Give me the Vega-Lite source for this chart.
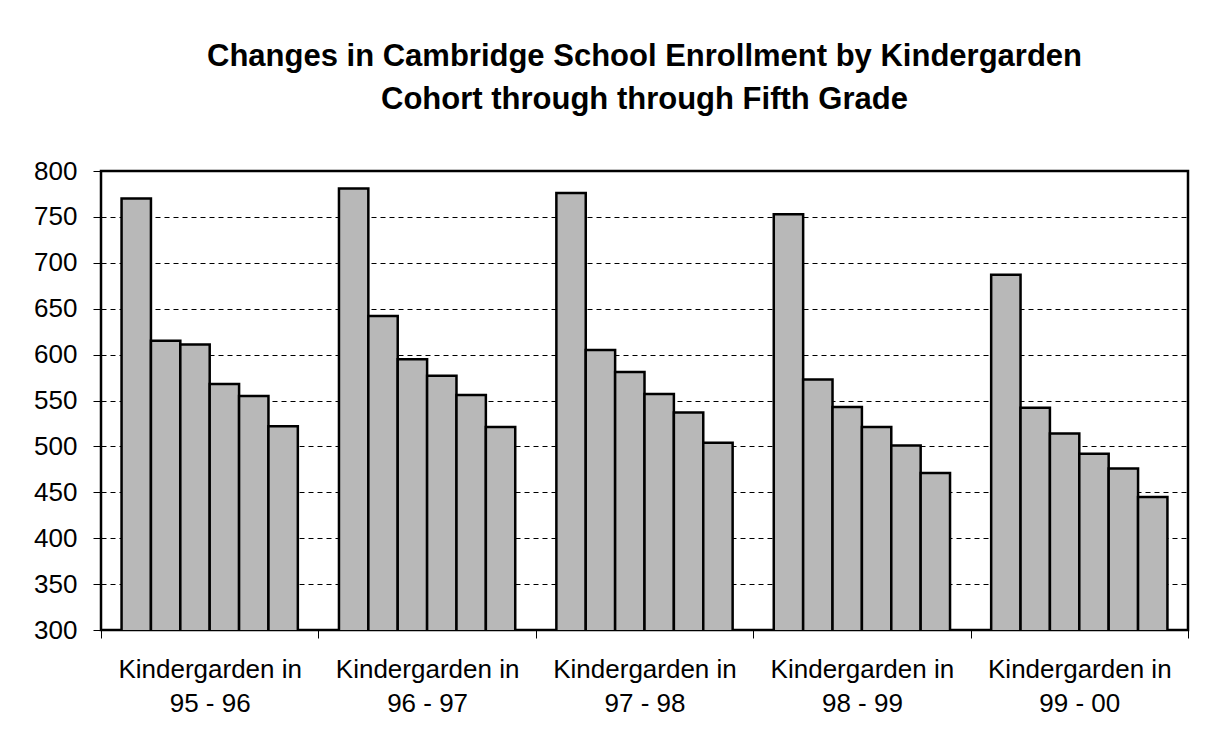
{
  "$schema": "https://vega.github.io/schema/vega-lite/v6.json",
  "width": 1087,
  "height": 459,
  "autosize": {"type": "none"},
  "padding": {"left": 101, "top": 171, "right": 40, "bottom": 117},
  "background": "white",
  "title": {
    "text": ["Changes in Cambridge School Enrollment by Kindergarden", "Cohort through through Fifth Grade"],
    "font": "Liberation Sans",
    "fontSize": 31,
    "fontWeight": "bold",
    "color": "black",
    "anchor": "middle",
    "lineHeight": 43,
    "offset": 42
  },
  "data": {
    "values": [
      {"cohort": "95 - 96", "grade": "K", "enrollment": 770},
      {"cohort": "95 - 96", "grade": "1", "enrollment": 615},
      {"cohort": "95 - 96", "grade": "2", "enrollment": 611},
      {"cohort": "95 - 96", "grade": "3", "enrollment": 568},
      {"cohort": "95 - 96", "grade": "4", "enrollment": 555},
      {"cohort": "95 - 96", "grade": "5", "enrollment": 522},
      {"cohort": "96 - 97", "grade": "K", "enrollment": 781},
      {"cohort": "96 - 97", "grade": "1", "enrollment": 642},
      {"cohort": "96 - 97", "grade": "2", "enrollment": 595},
      {"cohort": "96 - 97", "grade": "3", "enrollment": 577},
      {"cohort": "96 - 97", "grade": "4", "enrollment": 556},
      {"cohort": "96 - 97", "grade": "5", "enrollment": 521},
      {"cohort": "97 - 98", "grade": "K", "enrollment": 776},
      {"cohort": "97 - 98", "grade": "1", "enrollment": 605},
      {"cohort": "97 - 98", "grade": "2", "enrollment": 581},
      {"cohort": "97 - 98", "grade": "3", "enrollment": 557},
      {"cohort": "97 - 98", "grade": "4", "enrollment": 537},
      {"cohort": "97 - 98", "grade": "5", "enrollment": 504},
      {"cohort": "98 - 99", "grade": "K", "enrollment": 753},
      {"cohort": "98 - 99", "grade": "1", "enrollment": 573},
      {"cohort": "98 - 99", "grade": "2", "enrollment": 543},
      {"cohort": "98 - 99", "grade": "3", "enrollment": 521},
      {"cohort": "98 - 99", "grade": "4", "enrollment": 501},
      {"cohort": "98 - 99", "grade": "5", "enrollment": 471},
      {"cohort": "99 - 00", "grade": "K", "enrollment": 687},
      {"cohort": "99 - 00", "grade": "1", "enrollment": 542},
      {"cohort": "99 - 00", "grade": "2", "enrollment": 514},
      {"cohort": "99 - 00", "grade": "3", "enrollment": 492},
      {"cohort": "99 - 00", "grade": "4", "enrollment": 476},
      {"cohort": "99 - 00", "grade": "5", "enrollment": 445}
    ]
  },
  "mark": {"type": "bar", "fill": "#b8b8b8", "stroke": "black", "strokeWidth": 2.5, "clip": true},
  "encoding": {
    "x": {
      "field": "cohort",
      "type": "nominal",
      "sort": null,
      "scale": {"paddingInner": 0, "paddingOuter": 0},
      "axis": {
        "title": null,
        "labelAngle": 0,
        "labelExpr": "datum.label ? ['Kindergarden in', datum.label] : ''",
        "labelFont": "Liberation Sans",
        "labelFontSize": 26,
        "labelColor": "black",
        "labelLineHeight": 34,
        "labelPadding": 18,
        "labelLimit": 0,
        "labelOverlap": false,
        "labelBound": false,
        "tickBand": "extent",
        "tickSize": 8,
        "tickColor": "black",
        "tickWidth": 1,
        "domain": false,
        "grid": false
      }
    },
    "xOffset": {
      "field": "grade",
      "type": "nominal",
      "sort": ["K", "1", "2", "3", "4", "5"],
      "scale": {"paddingInner": 0, "paddingOuter": 0.7}
    },
    "y": {
      "field": "enrollment",
      "type": "quantitative",
      "scale": {"domain": [300, 800], "zero": false, "nice": false},
      "axis": {
        "title": null,
        "values": [300, 350, 400, 450, 500, 550, 600, 650, 700, 750, 800],
        "labelFont": "Liberation Sans",
        "labelFontSize": 26,
        "labelColor": "black",
        "labelPadding": 16,
        "tickSize": 8,
        "tickColor": "black",
        "tickWidth": 1,
        "domain": false,
        "grid": true,
        "gridColor": "black",
        "gridDash": [5, 4],
        "gridWidth": 1,
        "gridOpacity": 1
      }
    }
  },
  "config": {
    "view": {"stroke": "black", "strokeWidth": 2.5},
    "axis": {"zindex": 0}
  }
}
